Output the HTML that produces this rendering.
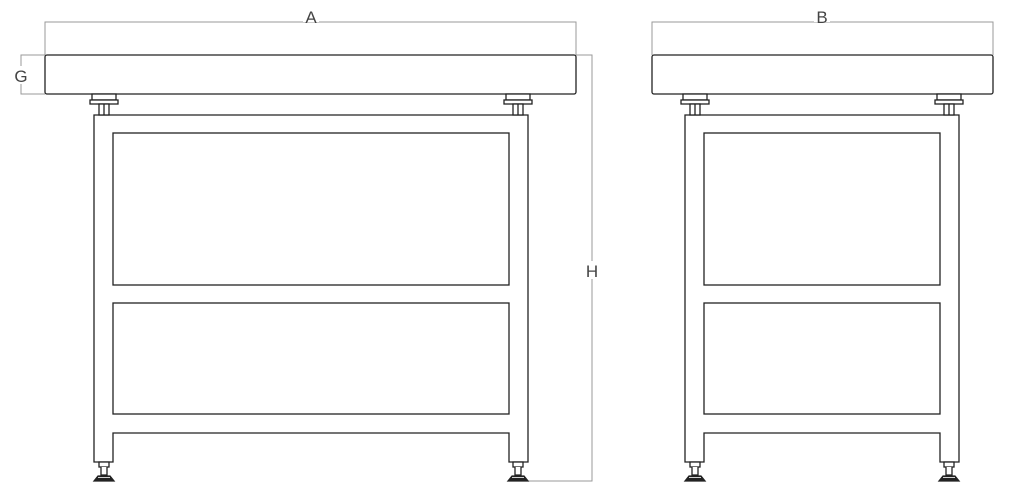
<!DOCTYPE html>
<html><head><style>body{margin:0;background:#fff}svg{display:block}</style></head><body>
<svg width="1024" height="498" viewBox="0 0 1024 498" xmlns="http://www.w3.org/2000/svg" font-family="Liberation Sans, sans-serif">
<defs>
<g id="lev" stroke="#222" stroke-width="1.3" fill="#fff">
<rect x="-12" y="0" width="24" height="6"/>
<rect x="-14" y="6" width="28" height="4"/>
<rect x="-5" y="10" width="10" height="11"/>
<line x1="0" y1="10" x2="0" y2="21"/>
</g>
<g id="foot" stroke="#222" stroke-width="1.3" fill="#fff">
<rect x="-5" y="0" width="10" height="5"/>
<path d="M-3 5 V13 H3 V5"/>
<path d="M-10 19 L-6 14 H6 L10 19 Z" fill="#222"/>
<line x1="-6" y1="15.5" x2="6" y2="15.5" stroke="#fff" stroke-width="0.8"/>
</g>
</defs>
<g fill="none" stroke="#999" stroke-width="1">
<path d="M45 55 V22 H576 V55"/>
<path d="M45 55 H21 V94 H45"/>
<path d="M576 55 H592 V481 H528"/>
<path d="M652 55 V22 H993 V55"/>
</g>
<g fill="#fff" stroke="#222" stroke-width="1.3">
<rect x="45" y="55" width="531" height="39" rx="2"/>
<rect x="652" y="55" width="341" height="39" rx="2"/>
<path d="M94 462 V115 H528 V462 H509 V433 H113 V462 Z"/>
<rect x="113" y="133" width="396" height="152"/>
<rect x="113" y="303" width="396" height="111"/>
<path d="M685 462 V115 H959 V462 H940 V433 H704 V462 Z"/>
<rect x="704" y="133" width="236" height="152"/>
<rect x="704" y="303" width="236" height="111"/>
</g>
<use href="#lev" x="104" y="94"/><use href="#lev" x="518" y="94"/>
<use href="#lev" x="695" y="94"/><use href="#lev" x="949" y="94"/>
<use href="#foot" x="104" y="462"/><use href="#foot" x="518" y="462"/>
<use href="#foot" x="695" y="462"/><use href="#foot" x="949" y="462"/>
<g font-size="17" fill="#444" text-anchor="middle">
<rect x="303" y="6" width="16" height="16" fill="#fff"/><text x="311" y="23">A</text>
<rect x="814" y="6" width="16" height="16" fill="#fff"/><text x="822" y="23">B</text>
<rect x="12" y="66" width="18" height="18" fill="#fff"/><text x="21" y="82">G</text>
<rect x="584" y="261" width="16" height="18" fill="#fff"/><text x="592" y="277">H</text>
</g>
</svg>
</body></html>
